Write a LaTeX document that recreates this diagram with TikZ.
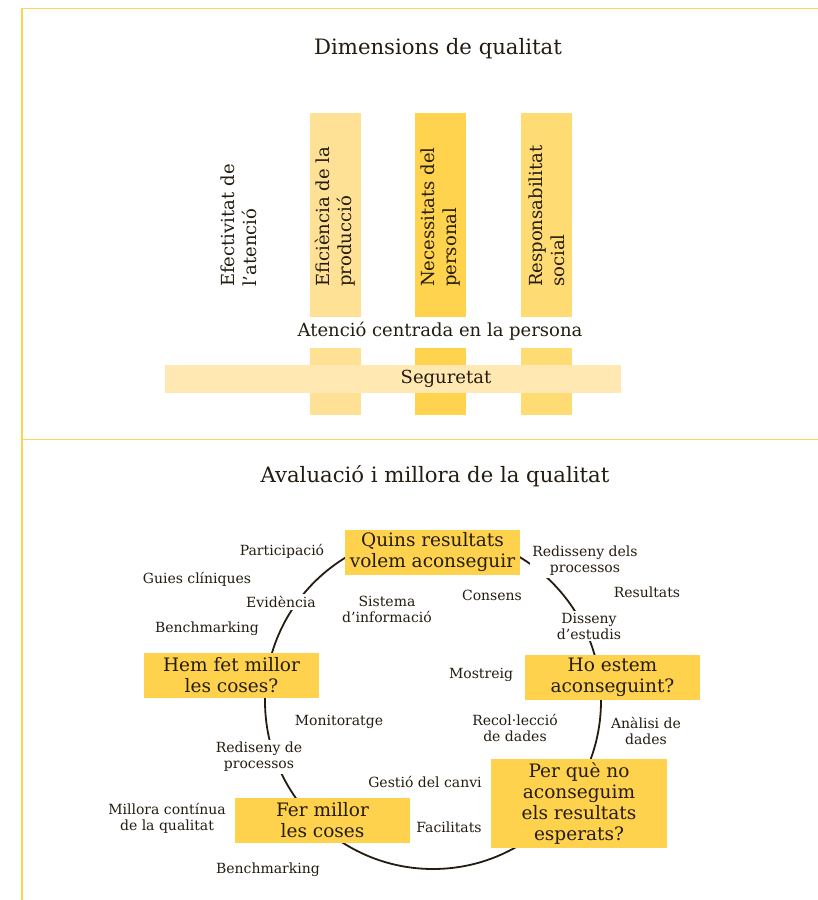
\documentclass[tikz,border=0pt]{standalone}
\usepackage{fontspec}
\setmainfont{DejaVu Serif}
\definecolor{ink}{HTML}{241C10}
\definecolor{marccol}{HTML}{FFD54F}
\definecolor{boxcol}{HTML}{FFD24D}
\definecolor{barA}{HTML}{FFE196}
\definecolor{barB}{HTML}{FFD34D}
\definecolor{barC}{HTML}{FFDB74}
\definecolor{bandcol}{HTML}{FFE8B2}
\tikzset{
  marc/.style={draw=marccol, line width=1.2pt},
  titol/.style={font=\fontsize{21.2}{25}\selectfont, text=ink, inner sep=0pt},
  dimtext/.style={font=\fontsize{18}{22}\selectfont, text=ink, align=left, inner sep=0pt},
  dimbar/.style={minimum width=51pt, minimum height=204pt, inner sep=0pt, draw=none},
  banda/.style={fill=bandcol, minimum width=456pt, minimum height=28pt, inner sep=0pt},
  cicle/.style={draw=ink, line width=1.8pt},
  pregunta/.style={fill=boxcol, minimum width=175pt, minimum height=45pt, inner sep=0pt,
    align=center, text=ink, font=\fontsize{18.5}{21}\selectfont},
  etiq/.style={fill=white, inner sep=2pt, align=center, text=ink,
    font=\fontsize{14}{16}\selectfont}
}
\newcommand{\dimbar}[4]{
  \node[dimbar, fill=#3] (#1up) at (#2,215) {};
  \node[dimbar, fill=#3, minimum height=67pt] (#1low) at (#2,381.5) {};
  \node[dimtext, rotate=90, anchor=west] (#1txt) at (#2,287) {#4};
}
\begin{document}
\begin{tikzpicture}[x=1pt, y=-1pt]
  \useasboundingbox (0,0) rectangle (818,900);
  % marc
  \coordinate (mtl) at (22,8.5);
  \coordinate (mtr) at (818,8.5);
  \coordinate (mbl) at (22,900);
  \coordinate (msl) at (22,439.5);
  \coordinate (msr) at (818,439.5);
  \draw[marc] (mtr) -- (mtl) -- (mbl);
  \draw[marc] (msl) -- (msr);

  % dimensions
  \node[titol] (dimtitol) at (438,49) {Dimensions de qualitat};
  \dimbar{efi}{335.5}{barA}{Eficiència de la\\producció}
  \dimbar{nec}{440.5}{barB}{Necessitats del\\personal}
  \dimbar{res}{546.5}{barC}{Responsabilitat\\social}
  \node[dimtext, rotate=90, anchor=west] (efetxt) at (239,287) {Efectivitat de\\l’atenció};
  \node[dimtext] (atencio) at (440,331) {Atenció centrada en la persona};
  \node[banda] (seguretat) at (393,379) {};
  \node[dimtext] (segtxt) at (446,379) {Seguretat};

  % avaluacio
  \node[titol] (avtitol) at (435,476) {Avaluació i millora de la qualitat};
  \coordinate (centre) at (433,701);
  \draw[cicle] (centre) circle[radius=168pt];
  \node[pregunta] (quins) at (432.5,552) {Quins resultats\\volem aconseguir};
  \node[pregunta] (hoestem) at (612.5,677.5) {Ho estem\\aconseguint?};
  \node[pregunta, minimum width=176pt, minimum height=89pt] (perque) at (579,803.5) {Per què no\\aconseguim\\els resultats\\esperats?};
  \node[pregunta] (fermillor) at (322.5,820.5) {Fer millor\\les coses};
  \node[pregunta] (hemfet) at (231.5,675.5) {Hem fet millor\\les coses?};

  \node[etiq] (particip) at (282,551) {Participació};
  \node[etiq] (guies) at (197,579) {Guies clíniques};
  \node[etiq] (evid) at (281,602) {Evidència};
  \node[etiq] (bench1) at (207,629) {Benchmarking};
  \node[etiq] (sistema) at (387,609) {Sistema\\d’informació};
  \node[etiq] (consens) at (492,595) {Consens};
  \node[etiq] (redis1) at (585,561) {Redisseny dels\\processos};
  \node[etiq] (resultats) at (647,592) {Resultats};
  \node[etiq] (disseny) at (589,626) {Disseny\\d’estudis};
  \node[etiq] (mostreig) at (481,675) {Mostreig};
  \node[etiq] (recol) at (515,728) {Recol·lecció\\de dades};
  \node[etiq] (analisi) at (646,731) {Anàlisi de\\dades};
  \node[etiq] (monitor) at (339,722) {Monitoratge};
  \node[etiq] (redis2) at (259,757) {Rediseny de\\processos};
  \node[etiq] (gestio) at (425,782) {Gestió del canvi};
  \node[etiq] (millora) at (167,818) {Millora contínua\\de la qualitat};
  \node[etiq] (facil) at (449,827) {Facilitats};
  \node[etiq] (bench2) at (268,870) {Benchmarking};
\end{tikzpicture}
\end{document}
